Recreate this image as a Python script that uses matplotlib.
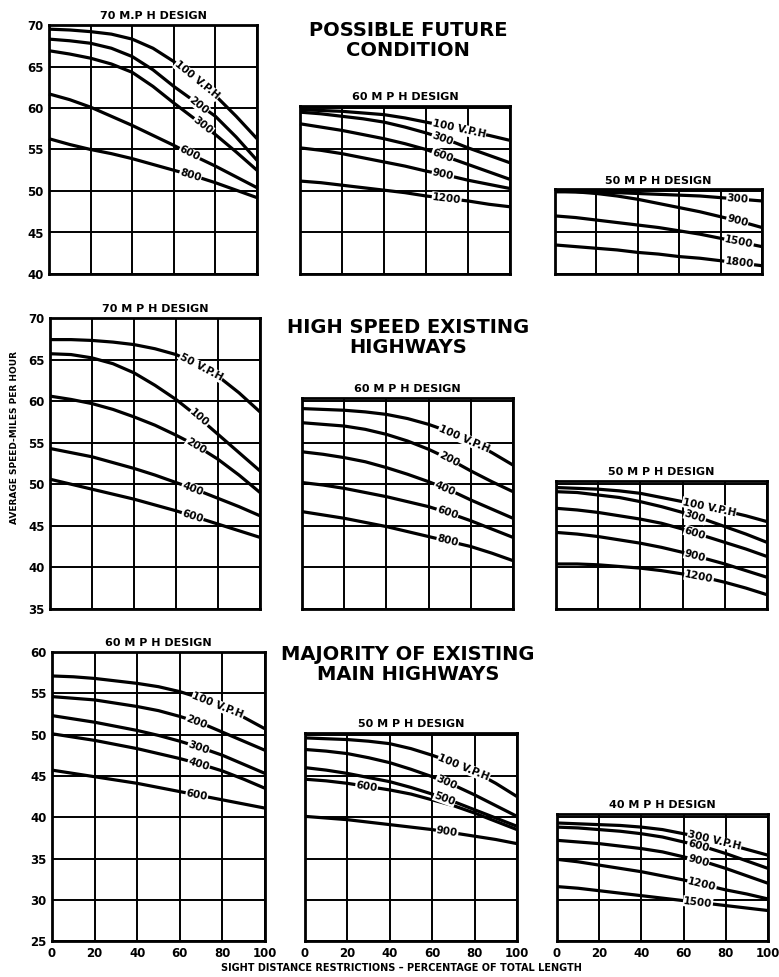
import numpy as np
import matplotlib.pyplot as plt

pct = [0, 10, 20, 30, 40, 50, 60, 70, 80, 90, 100]

# possible future condition
fut70_names = ['100 V.P.H', '200', '300', '600', '800']
fut70_100 = [69.5, 69.4, 69.2, 68.9, 68.3, 67.2, 65.6, 63.7, 61.5, 59.0, 56.3]
fut70_200 = [68.3, 68.1, 67.8, 67.2, 66.2, 64.6, 62.6, 60.8, 59.0, 56.5, 53.7]
fut70_300 = [66.9, 66.5, 66.0, 65.3, 64.3, 62.6, 60.6, 58.7, 56.8, 54.7, 52.5]
fut70_600 = [61.7, 61.0, 60.1, 59.0, 57.9, 56.7, 55.5, 54.2, 53.0, 51.7, 50.4]
fut70_800 = [56.3, 55.6, 55.0, 54.5, 53.9, 53.2, 52.5, 51.8, 51.0, 50.1, 49.2]

fut60_names = ['100 V.P.H', '300', '600', '900', '1200']
fut60_100 = [59.8, 59.7, 59.6, 59.4, 59.2, 58.8, 58.3, 57.8, 57.2, 56.7, 56.1]
fut60_300 = [59.5, 59.3, 59.0, 58.7, 58.3, 57.7, 57.0, 56.2, 55.2, 54.3, 53.4]
fut60_600 = [58.1, 57.7, 57.3, 56.8, 56.3, 55.7, 55.0, 54.1, 53.2, 52.3, 51.4]
fut60_900 = [55.2, 54.9, 54.5, 54.0, 53.5, 53.0, 52.4, 51.9, 51.3, 50.8, 50.3]
fut60_1200 = [51.2, 51.0, 50.7, 50.4, 50.1, 49.8, 49.4, 49.1, 48.8, 48.4, 48.1]

fut50_names = ['300', '900', '1500', '1800']
fut50_300 = [49.9, 49.9, 49.8, 49.8, 49.7, 49.6, 49.5, 49.4, 49.2, 49.0, 48.8]
fut50_900 = [50.0, 49.9, 49.7, 49.4, 49.0, 48.5, 48.0, 47.5, 46.9, 46.3, 45.6]
fut50_1500 = [47.0, 46.8, 46.5, 46.2, 45.9, 45.6, 45.2, 44.8, 44.3, 43.8, 43.3]
fut50_1800 = [43.5, 43.3, 43.1, 42.9, 42.6, 42.4, 42.1, 41.9, 41.6, 41.3, 41.0]

# high speed existing highways
hs70_names = ['50 V.P.H', '100', '200', '400', '600']
hs70_50 = [67.4, 67.4, 67.3, 67.1, 66.8, 66.3, 65.6, 64.5, 63.0, 61.0, 58.7]
hs70_100 = [65.7, 65.6, 65.2, 64.5, 63.4, 61.9, 60.2, 58.2, 56.0, 53.8, 51.6]
hs70_200 = [60.6, 60.2, 59.7, 59.0, 58.1, 57.1, 55.9, 54.6, 53.0, 51.1, 49.0]
hs70_400 = [54.3, 53.8, 53.3, 52.6, 51.9, 51.1, 50.2, 49.3, 48.3, 47.3, 46.2]
hs70_600 = [50.6, 50.0, 49.4, 48.8, 48.2, 47.5, 46.8, 46.0, 45.2, 44.4, 43.6]

hs60_names = ['100 V.P.H', '200', '400', '600', '800']
hs60_100 = [59.1, 59.0, 58.9, 58.7, 58.4, 57.9, 57.2, 56.3, 55.2, 53.8, 52.3]
hs60_200 = [57.4, 57.2, 57.0, 56.6, 56.0, 55.2, 54.2, 53.0, 51.6, 50.3, 49.1]
hs60_400 = [53.9, 53.6, 53.2, 52.7, 52.0, 51.2, 50.3, 49.3, 48.1, 47.0, 45.9]
hs60_600 = [50.2, 49.9, 49.5, 49.0, 48.5, 47.9, 47.3, 46.5, 45.6, 44.6, 43.6]
hs60_800 = [46.7, 46.3, 45.9, 45.4, 44.9, 44.3, 43.7, 43.1, 42.5, 41.7, 40.8]

hs50_names = ['100 V.P.H', '300', '600', '900', '1200']
hs50_100 = [49.6, 49.5, 49.4, 49.2, 48.9, 48.4, 47.9, 47.4, 46.8, 46.2, 45.5]
hs50_300 = [49.1, 49.0, 48.7, 48.4, 47.9, 47.3, 46.6, 45.8, 44.9, 44.0, 43.0]
hs50_600 = [47.1, 46.9, 46.6, 46.2, 45.8, 45.3, 44.6, 43.8, 43.0, 42.2, 41.3]
hs50_900 = [44.2, 44.0, 43.7, 43.3, 42.9, 42.4, 41.8, 41.1, 40.4, 39.6, 38.8]
hs50_1200 = [40.4, 40.4, 40.3, 40.1, 39.9, 39.6, 39.2, 38.8, 38.2, 37.5, 36.7]

# majority of existing main highways
mj60_names = ['100 V.P.H', '200', '300', '400', '600']
mj60_100 = [57.1, 57.0, 56.8, 56.5, 56.2, 55.8, 55.2, 54.4, 53.4, 52.1, 50.7]
mj60_200 = [54.6, 54.4, 54.2, 53.8, 53.4, 52.9, 52.2, 51.4, 50.3, 49.2, 48.1]
mj60_300 = [52.3, 51.9, 51.5, 51.0, 50.5, 49.9, 49.2, 48.4, 47.5, 46.4, 45.3]
mj60_400 = [50.1, 49.7, 49.3, 48.8, 48.3, 47.7, 47.1, 46.4, 45.6, 44.6, 43.5]
mj60_600 = [45.7, 45.3, 44.9, 44.5, 44.1, 43.6, 43.1, 42.6, 42.1, 41.6, 41.1]

mj50_names = ['100 V.P.H', '300', '500', '600', '900']
mj50_100 = [49.6, 49.5, 49.4, 49.2, 48.9, 48.3, 47.5, 46.6, 45.5, 44.1, 42.5]
mj50_300 = [48.2, 48.0, 47.7, 47.2, 46.6, 45.8, 44.9, 43.9, 42.7, 41.4, 40.1]
mj50_500 = [46.0, 45.7, 45.3, 44.8, 44.3, 43.6, 42.8, 41.9, 40.9, 39.9, 38.9]
mj50_600 = [44.6, 44.4, 44.1, 43.7, 43.3, 42.8, 42.1, 41.4, 40.5, 39.5, 38.5]
mj50_900 = [40.1, 39.9, 39.7, 39.4, 39.1, 38.8, 38.5, 38.1, 37.7, 37.3, 36.8]

mj40_names = ['300 V.P.H', '600', '900', '1200', '1500']
mj40_300 = [39.3, 39.2, 39.1, 39.0, 38.8, 38.5, 38.0, 37.5, 36.8, 36.1, 35.4]
mj40_600 = [38.8, 38.7, 38.5, 38.3, 38.0, 37.6, 37.0, 36.4, 35.6, 34.7, 33.8]
mj40_900 = [37.2, 37.0, 36.8, 36.5, 36.2, 35.8, 35.2, 34.6, 33.8, 32.9, 32.0]
mj40_1200 = [34.9, 34.6, 34.2, 33.8, 33.4, 32.9, 32.4, 31.8, 31.2, 30.7, 30.1]
mj40_1500 = [31.6, 31.4, 31.1, 30.8, 30.5, 30.2, 29.9, 29.6, 29.3, 29.0, 28.7]

W, H = 779, 977

# rows: (reference mph, its pixel row, pixels per mph, bottom mph)
rows = [(70, 25, 8.3, 40), (70, 318, 8.31, 35), (60, 652, 8.26, 25)]

# panel layout in pixels: row, left, right, top mph, title, curves, names, label x
panels = [
    (0, 49, 257, 70, '70 M.P H DESIGN',
     [fut70_100, fut70_200, fut70_300, fut70_600, fut70_800], fut70_names,
     [61, 68, 70, 63, 63]),
    (0, 300, 510, 60.3, '60 M P H DESIGN',
     [fut60_100, fut60_300, fut60_600, fut60_900, fut60_1200], fut60_names,
     [63, 63, 63, 63, 63]),
    (0, 555, 762, 50.2, '50 M P H DESIGN',
     [fut50_300, fut50_900, fut50_1500, fut50_1800], fut50_names,
     [83, 83, 82, 82]),
    (1, 50, 260, 70, '70 M P H DESIGN',
     [hs70_50, hs70_100, hs70_200, hs70_400, hs70_600], hs70_names,
     [62, 67, 65, 63, 63]),
    (1, 302, 513, 60.4, '60 M P H DESIGN',
     [hs60_100, hs60_200, hs60_400, hs60_600, hs60_800], hs60_names,
     [65, 65, 63, 64, 64]),
    (1, 556, 767, 50.4, '50 M P H DESIGN',
     [hs50_100, hs50_300, hs50_600, hs50_900, hs50_1200], hs50_names,
     [60, 61, 61, 61, 61]),
    (2, 52, 265, 60, '60 M P H DESIGN',
     [mj60_100, mj60_200, mj60_300, mj60_400, mj60_600], mj60_names,
     [66, 63, 64, 64, 63]),
    (2, 305, 517, 50.2, '50 M P H DESIGN',
     [mj50_100, mj50_300, mj50_500, mj50_600, mj50_900], mj50_names,
     [63, 62, 61, 24, 62]),
    (2, 557, 768, 40.4, '40 M P H DESIGN',
     [mj40_300, mj40_600, mj40_900, mj40_1200, mj40_1500], mj40_names,
     [62, 62, 62, 62, 60]),
]

group_titles = ['POSSIBLE FUTURE\nCONDITION', 'HIGH SPEED EXISTING\nHIGHWAYS',
                'MAJORITY OF EXISTING\nMAIN HIGHWAYS']
group_title_y = [21, 318, 645]

plt.rcParams['font.family'] = 'DejaVu Sans'
plt.rcParams['font.weight'] = 'bold'

fig = plt.figure(figsize=(W / 100, H / 100), dpi=100)


def slope_angle(ax, vals, x, span):
    x1 = min(x + span, 100)
    y0, y1 = np.interp([x, x1], pct, vals)
    p0, p1 = ax.transData.transform([(x, y0), (x1, y1)])
    return np.degrees(np.arctan2(p1[1] - p0[1], p1[0] - p0[0]))


for row, left, right, top, title, curves, names, label_x in panels:
    ref_mph, ref_px, ppm, bottom = rows[row]
    y_top = ref_px + (ref_mph - top) * ppm
    y_bot = ref_px + (ref_mph - bottom) * ppm
    ax = fig.add_axes([left / W, 1 - y_bot / H, (right - left) / W,
                       (y_bot - y_top) / H])
    ax.set_xlim(0, 100)
    ax.set_ylim(bottom, top)
    ax.set_xticks(range(0, 101, 20))
    ax.set_yticks(range(bottom, int(top) + 1, 5))
    ax.grid(True, color='black', lw=1.4)
    ax.set_axisbelow(True)
    for sp in ax.spines.values():
        sp.set_linewidth(2.0)
    ax.tick_params(length=0, labelsize=8.5, pad=4)
    if left > 100:
        ax.set_yticklabels([])
    if row != 2:
        ax.set_xticklabels([])
    ax.set_title(title, fontsize=8, fontweight='bold', pad=4)

    for vals in curves:
        ax.plot(pct, vals, color='black', lw=2.3, solid_capstyle='butt',
                clip_on=False, zorder=3)
    for vals, name, lx in zip(curves, names, label_x):
        ly = np.interp(lx, pct, vals)
        ang = slope_angle(ax, vals, lx, 18)
        ax.text(lx, ly, name, fontsize=7.5, fontweight='bold', rotation=ang,
                rotation_mode='anchor', ha='left', va='center', zorder=4,
                bbox=dict(facecolor='white', edgecolor='none', pad=0.4))

for t, ty in zip(group_titles, group_title_y):
    fig.text(408 / W, 1 - ty / H, t, ha='center', va='top', fontsize=14,
             fontweight='bold', linespacing=1.05)

fig.text(15 / W, 1 - 438 / H, 'AVERAGE SPEED-MILES PER HOUR', rotation=90,
         ha='center', va='center', fontsize=6.5, fontweight='bold')
fig.text(401 / W, 1 - 968 / H,
         'SIGHT DISTANCE RESTRICTIONS \u2013 PERCENTAGE OF TOTAL LENGTH',
         ha='center', va='center', fontsize=7, fontweight='bold')

fig.savefig('out.png', dpi=100)
